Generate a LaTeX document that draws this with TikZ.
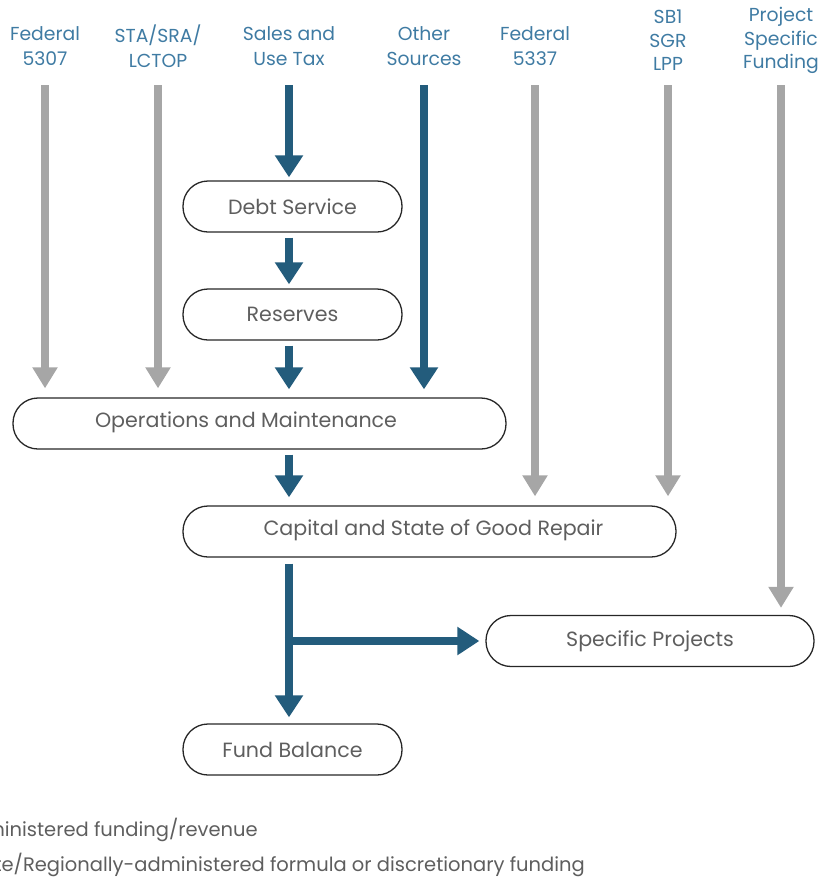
\documentclass[tikz,border=0pt]{standalone}
\usepackage{fontspec}
\setmainfont{Poppins}
\usetikzlibrary{arrows.meta}
\definecolor{arrblue}{HTML}{235C7C}
\definecolor{arrgray}{HTML}{A6A6A6}
\definecolor{headblue}{HTML}{3F7BA3}
\definecolor{boxtext}{HTML}{5E5E5E}
\tikzset{
  boxfont/.style={font=\fontsize{20.6}{24}\selectfont},
  pill/.style={draw=black!85, line width=1.3pt, rounded corners=25pt, minimum height=51pt, inner sep=0pt, text=boxtext, boxfont},
  head/.style={text=headblue, align=center, font=\fontsize{18.8}{25}\selectfont, inner sep=0pt},
  head3/.style={head, font=\fontsize{18.8}{23.5}\selectfont},
  bluearr/.style={draw=arrblue, line width=8.5pt, -{Triangle[width=27pt,length=22pt]}},
  grayarr/.style={draw=arrgray, line width=7.5pt, -{Triangle[width=24pt,length=21pt]}},
  legend/.style={text=boxtext, anchor=east, inner sep=0pt, font=\fontsize{19.5}{24}\selectfont}
}
\begin{document}
\begin{tikzpicture}[x=1pt,y=-1pt]
\useasboundingbox (0,0) rectangle (818,879);
% headers
\node[head] (f5307) at (45,46) {Federal\\5307};
\node[head] (sta) at (158,46) {STA/SRA/\\LCTOP};
\node[head] (sales) at (289,46) {Sales and\\Use Tax};
\node[head] (other) at (424,46) {Other\\Sources};
\node[head] (f5337) at (535,46) {Federal\\5337};
\node[head3] (sb1) at (668,40.5) {SB1\\SGR\\LPP};
\node[head3] (psf) at (781,40.5) {Project\\Specific\\Funding};
\coordinate (top) at (0,85);
% boxes
\node[pill, minimum width=219pt] (ds) at (292.5,206.5) {Debt Service};
\node[pill, minimum width=219pt] (res) at (292.5,314.5) {Reserves};
\node[pill, minimum width=493pt] (om) at (259.5,423.5) {};
\node[text=boxtext, boxfont, inner sep=0pt] (omt) at (246,422) {Operations and Maintenance};
\node[pill, minimum width=493pt] (cap) at (429.5,531.5) {};
\node[text=boxtext, boxfont, inner sep=0pt] (capt) at (433.5,530.5) {Capital and State of Good Repair};
\node[pill, minimum width=328pt] (sp) at (650,641) {Specific Projects};
\node[pill, minimum width=219pt] (fund) at (292.5,749.5) {Fund Balance};
% gray arrows
\draw[grayarr, shorten >=9pt] (f5307 |- top) -- (f5307 |- om.north);
\draw[grayarr, shorten >=9pt] (sta |- top) -- (sta |- om.north);
\draw[grayarr, shorten >=9pt] (f5337 |- top) -- (f5337 |- cap.north);
\draw[grayarr, shorten >=9pt] (sb1 |- top) -- (sb1 |- cap.north);
\draw[grayarr, shorten >=7pt] (psf |- top) -- (psf |- sp.north);
% blue arrows
\draw[bluearr, shorten >=3pt] (sales |- top) -- (sales |- ds.north);
\draw[bluearr, shorten <=5pt, shorten >=4pt] (sales |- ds.south) -- (sales |- res.north);
\draw[bluearr, shorten <=5pt, shorten >=8pt] (sales |- res.south) -- (sales |- om.north);
\draw[bluearr, shorten >=8pt] (other |- top) -- (other |- om.north);
\draw[bluearr, shorten <=5pt, shorten >=8pt] (sales |- om.south) -- (sales |- cap.north);
\draw[bluearr, shorten <=6pt, shorten >=6pt] (sales |- cap.south) -- (sales |- fund.north);
\coordinate (br) at (sales |- sp.west);
\draw[bluearr, shorten >=6pt] ([xshift=-4.25pt]br) -- (sp.west);
% legend
\node[legend] (l1) at (258,830) {ministered funding/revenue};
\node[legend] (l2) at (585,865) {te/Regionally-administered formula or discretionary funding};
\end{tikzpicture}
\end{document}
